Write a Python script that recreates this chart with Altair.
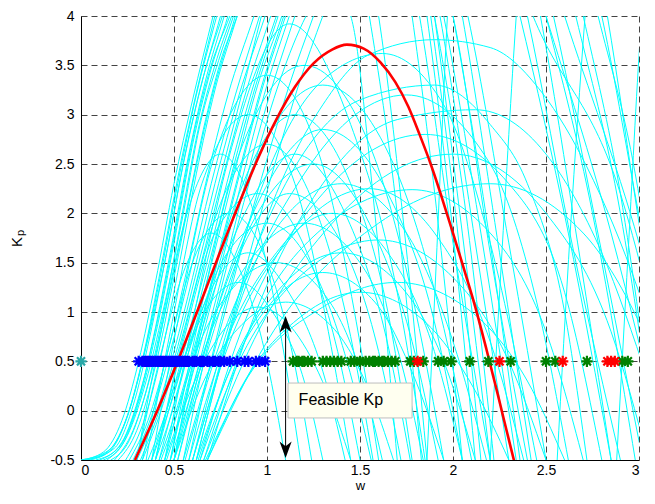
import altair as alt
import pandas as pd

# ---------------- data ----------------
# tall cyan curves (peak above the top of the plot)
TALL = [
    [(0.00,-0.5),(0.12,-0.42),(0.22,-0.1),(0.31,0.5),(0.40,1.3),(0.50,2.3),(0.60,3.15),(0.71,4.0),(1.25,8.0),(1.78,4.0),(1.92,1.9),(2.05,-0.5)],
    [(0.02,-0.5),(0.14,-0.42),(0.24,-0.1),(0.33,0.5),(0.42,1.3),(0.52,2.3),(0.62,3.2),(0.73,4.0),(1.60,9.0),(2.43,4.0),(2.90,2.2),(3.25,-0.5)],
    [(0.05,-0.5),(0.16,-0.40),(0.26,0.0),(0.35,0.65),(0.45,1.5),(0.55,2.5),(0.64,3.25),(0.75,4.0),(1.30,8.0),(1.90,4.0),(2.05,1.8),(2.20,-0.5)],
    [(0.08,-0.5),(0.20,-0.38),(0.30,0.05),(0.39,0.75),(0.48,1.6),(0.58,2.6),(0.67,3.35),(0.77,4.0),(1.65,9.0),(2.50,4.0),(2.85,1.8),(3.15,-0.5)],
    [(0.12,-0.5),(0.22,-0.35),(0.32,0.15),(0.41,0.85),(0.50,1.7),(0.60,2.7),(0.69,3.4),(0.79,4.0),(1.30,8.0),(1.86,4.0),(2.00,1.8),(2.12,-0.5)],
    [(0.16,-0.5),(0.26,-0.30),(0.35,0.2),(0.44,0.95),(0.53,1.85),(0.63,2.85),(0.72,3.5),(0.81,4.0),(1.70,9.0),(2.54,4.0),(2.80,1.6),(3.02,-0.5)],
    [(0.20,-0.5),(0.30,-0.2),(0.40,0.45),(0.50,1.35),(0.60,2.3),(0.70,3.15),(0.83,4.0),(1.45,8.0),(2.05,4.0),(2.25,1.6),(2.42,-0.5)],
    [(0.24,-0.5),(0.33,-0.15),(0.43,0.55),(0.52,1.4),(0.62,2.4),(0.72,3.25),(0.84,4.0),(1.60,9.0),(2.40,4.0),(2.65,1.6),(2.90,-0.5)],
    [(0.28,-0.5),(0.38,-0.05),(0.48,0.6),(0.58,1.35),(0.70,2.3),(0.83,3.2),(0.96,4.0),(1.40,7.0),(1.82,4.0),(2.00,1.7),(2.20,-0.5)],
    [(0.30,-0.5),(0.40,-0.05),(0.50,0.6),(0.60,1.35),(0.72,2.3),(0.85,3.2),(0.99,4.0),(1.80,9.0),(2.60,4.0),(3.00,1.7),(3.30,-0.5)],
    [(0.33,-0.5),(0.43,0.0),(0.53,0.65),(0.64,1.45),(0.76,2.35),(0.89,3.25),(1.02,4.0),(1.50,7.0),(1.93,4.0),(2.12,1.7),(2.30,-0.5)],
    [(0.36,-0.5),(0.46,0.0),(0.56,0.65),(0.67,1.45),(0.79,2.35),(0.92,3.25),(1.05,4.0),(1.75,8.0),(2.47,4.0),(2.67,1.7),(2.85,-0.5)],
    [(0.40,-0.5),(0.50,0.05),(0.60,0.75),(0.71,1.55),(0.83,2.45),(0.95,3.3),(1.08,4.0),(1.34,5.6),(1.60,4.0),(1.74,1.8),(1.86,-0.5)],
    [(0.43,-0.5),(0.53,0.05),(0.63,0.75),(0.74,1.55),(0.86,2.45),(0.98,3.3),(1.10,4.0),(1.95,9.0),(2.83,4.0),(3.00,1.9),(3.20,-0.5)],
    [(0.46,-0.5),(0.56,0.1),(0.66,0.8),(0.77,1.6),(0.88,2.45),(1.00,3.3),(1.12,4.0),(1.60,6.5),(2.08,4.0),(2.30,1.7),(2.50,-0.5)],
    [(0.50,-0.5),(0.60,0.15),(0.70,0.85),(0.81,1.65),(0.94,2.55),(1.07,3.35),(1.21,4.0),(1.33,4.35),(1.45,4.0),(1.58,2.0),(1.70,-0.5)],
    [(0.55,-0.5),(0.65,0.15),(0.76,0.9),(0.88,1.75),(1.00,2.55),(1.12,3.3),(1.25,4.0),(2.00,8.0),(2.80,4.0),(3.05,1.5),(3.30,-0.5)],
    [(0.60,-0.5),(0.70,0.15),(0.81,0.9),(0.93,1.75),(1.05,2.55),(1.17,3.3),(1.30,4.0),(1.65,5.5),(2.00,4.0),(2.20,1.6),(2.40,-0.5)],
    [(0.00,-0.5),(0.15,-0.40),(0.25,-0.05),(0.34,0.6),(0.43,1.45),(0.53,2.45),(0.63,3.3),(0.72,4.0),(1.30,8.5),(1.88,4.0),(2.02,1.9),(2.15,-0.5)],
    [(0.03,-0.5),(0.18,-0.38),(0.28,0.05),(0.37,0.75),(0.46,1.6),(0.56,2.6),(0.66,3.4),(0.76,4.0),(1.55,9.0),(2.36,4.0),(2.62,1.8),(2.85,-0.5)],
    [(0.10,-0.5),(0.22,-0.32),(0.32,0.2),(0.41,0.9),(0.50,1.75),(0.60,2.75),(0.70,3.5),(0.80,4.0),(1.40,8.0),(2.00,4.0),(2.20,1.7),(2.36,-0.5)],
    [(0.14,-0.5),(0.25,-0.25),(0.35,0.3),(0.44,1.0),(0.54,1.9),(0.64,2.9),(0.74,3.55),(0.82,4.0),(1.75,9.5),(2.70,4.0),(2.90,2.2),(3.10,-0.5)],
    [(0.18,-0.5),(0.28,-0.2),(0.38,0.4),(0.47,1.15),(0.57,2.05),(0.67,2.95),(0.76,3.6),(0.84,4.0),(1.20,6.5),(1.55,4.0),(1.70,2.0),(1.83,-0.5)],
    [(0.26,-0.5),(0.36,-0.1),(0.46,0.55),(0.56,1.35),(0.67,2.3),(0.79,3.2),(0.93,4.0),(1.70,9.0),(2.50,4.0),(2.75,2.0),(2.98,-0.5)],
    [(0.32,-0.5),(0.42,0.0),(0.52,0.65),(0.62,1.4),(0.74,2.3),(0.87,3.25),(0.97,4.0),(1.45,7.0),(1.95,4.0),(2.15,1.8),(2.34,-0.5)],
    [(0.38,-0.5),(0.48,0.05),(0.58,0.7),(0.69,1.5),(0.81,2.4),(0.94,3.3),(1.06,4.0),(1.85,9.0),(2.66,4.0),(2.90,2.0),(3.10,-0.5)],
    [(0.42,-0.5),(0.52,0.05),(0.62,0.72),(0.73,1.52),(0.85,2.42),(0.97,3.28),(1.09,4.0),(1.50,6.5),(1.90,4.0),(2.07,2.0),(2.22,-0.5)],
    [(0.48,-0.5),(0.58,0.1),(0.68,0.8),(0.79,1.6),(0.91,2.5),(1.03,3.3),(1.15,4.0),(1.95,9.0),(2.78,4.0),(2.98,2.4),(3.20,-0.5)],
]
# steep rising cyan lines on the right
RISE = [
    [(1.86,-0.5),(1.91,1.5),(1.97,4.0),(2.10,7.0)],
    [(2.20,-0.5),(2.26,1.5),(2.34,4.0),(2.45,6.5)],
    [(2.56,-0.5),(2.63,1.8),(2.71,4.0),(2.80,6.0)],
    [(2.88,-0.5),(2.93,1.2),(3.00,3.6),(3.05,5.0)],
]
# cyan arcs peaking inside the plot
MID = [
    [(0.45,-0.5),(0.60,0.9),(0.80,2.6),(1.12,3.92),(1.45,2.9),(1.70,1.2),(1.85,-0.5)],
    [(0.58,-0.5),(0.75,0.9),(1.00,2.4),(1.30,3.35),(1.62,3.62),(1.95,3.1),(2.20,1.7),(2.45,-0.5)],
    [(0.62,-0.5),(0.80,0.8),(1.05,2.2),(1.30,3.1),(1.54,3.6),(1.90,3.76),(2.20,3.68),(2.48,3.22),(2.72,2.47),(3.00,1.2),(3.20,0.0)],
    [(0.60,-0.5),(0.80,0.9),(1.10,2.3),(1.50,3.15),(1.90,3.3),(2.20,2.9),(2.40,2.3),(2.60,1.0),(2.72,-0.5)],
    [(0.68,-0.5),(0.90,0.8),(1.30,2.3),(1.70,2.95),(2.12,3.05),(2.50,2.6),(2.80,1.6),(3.05,0.3)],
    [(0.50,-0.5),(0.65,0.9),(0.85,2.2),(1.15,3.0),(1.45,2.3),(1.65,1.0),(1.78,-0.5)],
    [(0.55,-0.5),(0.70,0.8),(0.95,2.1),(1.30,2.85),(1.65,2.2),(1.90,0.9),(2.05,-0.5)],
    [(0.52,-0.5),(0.68,0.7),(0.92,1.9),(1.25,2.5),(1.55,1.9),(1.78,0.7),(1.92,-0.5)],
    [(0.56,-0.5),(0.75,0.7),(1.05,1.85),(1.40,2.3),(1.75,1.8),(2.00,0.7),(2.18,-0.5)],
    [(0.60,-0.5),(0.80,0.7),(1.15,1.8),(1.55,2.25),(1.92,1.75),(2.20,0.7),(2.38,-0.5)],
    [(0.66,-0.5),(0.88,0.7),(1.30,1.85),(1.78,2.24),(2.20,1.8),(2.50,0.8),(2.70,-0.5)],
    [(0.64,-0.5),(0.85,0.5),(1.20,1.4),(1.60,1.73),(2.00,1.35),(2.30,0.5),(2.50,-0.5)],
    [(0.40,-0.5),(0.55,0.7),(0.72,1.8),(0.95,2.2),(1.18,1.75),(1.38,0.6),(1.50,-0.5)],
    [(0.42,-0.5),(0.58,0.6),(0.77,1.55),(1.00,1.9),(1.23,1.5),(1.43,0.5),(1.56,-0.5)],
    [(0.40,-0.5),(0.55,0.5),(0.72,1.3),(0.90,1.6),(1.10,1.25),(1.30,0.4),(1.42,-0.5)],
    [(0.38,-0.5),(0.52,0.35),(0.68,1.05),(0.85,1.3),(1.03,1.0),(1.20,0.3),(1.30,-0.5)],
    [(0.50,-0.5),(0.66,0.3),(0.88,0.9),(1.10,1.1),(1.35,0.85),(1.55,0.2),(1.68,-0.5)],
    [(0.45,-0.5),(0.60,0.5),(0.82,1.25),(1.05,1.5),(1.30,1.2),(1.50,0.4),(1.62,-0.5)],
    [(0.50,-0.5),(0.66,0.6),(0.90,1.5),(1.20,1.9),(1.50,1.5),(1.72,0.5),(1.84,-0.5)],
    [(0.62,-0.5),(0.80,0.4),(1.05,1.15),(1.30,1.4),(1.58,1.1),(1.80,0.3),(1.95,-0.5)],
    [(0.68,-0.5),(0.88,0.3),(1.18,0.95),(1.50,1.2),(1.85,0.9),(2.12,0.2),(2.30,-0.5)],
    [(0.30,-0.5),(0.42,0.7),(0.57,2.0),(0.75,2.6),(0.93,2.0),(1.08,0.7),(1.18,-0.5)],
    [(0.35,-0.5),(0.48,0.8),(0.65,2.3),(0.90,3.0),(1.15,2.3),(1.33,0.8),(1.45,-0.5)],
    [(0.38,-0.5),(0.52,0.9),(0.72,2.6),(1.00,3.4),(1.28,2.6),(1.48,0.9),(1.60,-0.5)],
    [(0.50,-0.5),(0.66,0.9),(0.92,2.45),(1.30,3.3),(1.68,2.5),(1.93,1.0),(2.10,-0.5)],
    [(0.62,-0.5),(0.82,0.9),(1.20,2.4),(1.75,3.2),(2.20,2.5),(2.45,1.1),(2.62,-0.5)],
    [(0.52,-0.5),(0.68,0.6),(0.88,1.7),(1.12,2.2),(1.40,1.7),(1.60,0.6),(1.72,-0.5)],
    [(0.66,-0.5),(0.90,0.6),(1.40,2.0),(2.00,2.6),(2.50,2.0),(2.85,0.8),(3.05,-0.5)],
    [(0.30,-0.5),(0.42,0.5),(0.56,1.45),(0.70,1.8),(0.86,1.4),(1.00,0.5),(1.10,-0.5)],
    [(0.33,-0.5),(0.46,0.55),(0.62,1.6),(0.80,2.0),(0.98,1.6),(1.14,0.55),(1.24,-0.5)],
    [(0.40,-0.5),(0.55,0.75),(0.75,2.1),(1.00,2.7),(1.25,2.1),(1.45,0.75),(1.57,-0.5)],
    [(0.48,-0.5),(0.64,0.75),(0.88,2.0),(1.15,2.6),(1.42,2.0),(1.64,0.75),(1.77,-0.5)],
    [(0.48,-0.5),(0.63,0.9),(0.85,2.6),(1.20,3.5),(1.55,2.7),(1.80,1.0),(1.95,-0.5)],
    [(0.63,-0.5),(0.82,0.5),(1.10,1.3),(1.40,1.6),(1.70,1.3),(1.95,0.5),(2.12,-0.5)],
    [(0.67,-0.5),(0.90,0.35),(1.30,1.05),(1.70,1.3),(2.10,1.0),(2.40,0.3),(2.60,-0.5)],
    [(0.58,-0.5),(0.76,0.6),(1.05,1.6),(1.35,2.0),(1.65,1.6),(1.90,0.6),(2.05,-0.5)],
    [(0.45,-0.5),(0.60,0.25),(0.78,0.85),(0.95,1.05),(1.15,0.8),(1.32,0.2),(1.45,-0.5)],
    [(0.68,-0.5),(1.00,0.7),(1.60,1.9),(2.20,2.3),(2.70,1.8),(3.00,0.9),(3.20,0.0)],
    [(0.64,-0.5),(0.86,0.8),(1.30,2.2),(1.85,2.8),(2.30,2.3),(2.60,1.2),(2.80,-0.5)],
]
# the highlighted (red) curve
RED_CURVE = [(0.29,-0.5),(0.41,0.0),(0.52,0.5),(0.63,1.03),(0.74,1.57),(0.85,2.1),(0.95,2.55),
             (1.05,2.95),(1.15,3.28),(1.25,3.52),(1.35,3.66),(1.43,3.71),(1.52,3.67),(1.61,3.53),
             (1.69,3.33),(1.76,3.08),(1.82,2.8),(1.88,2.5),(1.94,2.16),(2.00,1.8),(2.06,1.43),
             (2.12,1.05),(2.18,0.62),(2.24,0.17),(2.31,-0.37),(2.33,-0.52)]

# star markers at Kp = 0.5
MARK_KP = 0.5
CYAN_W = [0.0]
BLUE_W = [0.31,0.33,0.34,0.35,0.36,0.37,0.38,0.39,0.40,0.41,0.42,0.43,0.44,0.45,0.46,0.47,
          0.48,0.49,0.50,0.51,0.52,0.53,0.54,0.55,0.56,0.57,0.58,0.60,0.61,0.62,0.64,0.65,
          0.66,0.68,0.69,0.71,0.72,0.74,0.75,0.77,0.80,0.84,0.88,0.90,0.94,0.96,0.99]
GREEN_W = [1.14,1.16,1.17,1.19,1.20,1.22,1.24,1.30,1.32,1.34,1.36,1.38,1.40,1.45,1.47,1.50,
           1.53,1.55,1.57,1.58,1.60,1.62,1.63,1.65,1.67,1.69,1.77,1.79,1.84,1.92,1.95,1.99,
           2.09,2.19,2.31,2.50,2.55,2.72,2.91,2.94]
RED_W = [1.81,2.25,2.59,2.83,2.85,2.87]

# annotation
ARROW_W = 1.10
ARROW_TOP = 0.96
ARROW_BOTTOM = -0.48
BOX = dict(x=1.113, x2=1.78, y=-0.074, y2=0.28)
BOX_TEXT = "Feasible Kp"
TEXT_POS = (1.17, 0.105)

X_TICKS = [0, 0.5, 1, 1.5, 2, 2.5, 3]
Y_TICKS = [-0.5, 0, 0.5, 1, 1.5, 2, 2.5, 3, 3.5, 4]

# ---------------- build tables ----------------
rows = []
for ci, curve in enumerate(TALL + RISE + MID):
    for j, (w, k) in enumerate(curve):
        rows.append({"c": ci, "w": w, "k": k, "o": j})
cyan_df = pd.DataFrame(rows)
red_df = pd.DataFrame([{"w": w, "k": k, "o": j} for j, (w, k) in enumerate(RED_CURVE)])

stars = ([{"w": w, "k": MARK_KP, "g": "c"} for w in CYAN_W]
         + [{"w": w, "k": MARK_KP, "g": "b"} for w in BLUE_W]
         + [{"w": w, "k": MARK_KP, "g": "g"} for w in GREEN_W]
         + [{"w": w, "k": MARK_KP, "g": "r"} for w in RED_W])
star_df = pd.DataFrame(stars)

FONT = "Liberation Sans"
xs = alt.Scale(domain=[0, 3], nice=False, zero=False)
ys = alt.Scale(domain=[-0.5, 4], nice=False, zero=False)
xaxis = alt.Axis(values=X_TICKS, title="w", grid=True, tickSize=0, labelPadding=3,
                 labelExpr="'' + datum.value", titleX=279, titleY=29, titleFontSize=13,
                 titleBaseline="alphabetic", titleAnchor=None)
yaxis = alt.Axis(values=Y_TICKS, title=None, grid=True, tickSize=0, labelPadding=7,
                 labelExpr="'' + datum.value")
X = alt.X("w:Q", scale=xs, axis=xaxis)
Y = alt.Y("k:Q", scale=ys, axis=yaxis)

cyan = alt.Chart(cyan_df).mark_line(color="#00FFFF", strokeWidth=1, interpolate="monotone",
                                    clip=True).encode(x=X, y=Y, detail="c:N", order="o:Q")
red = alt.Chart(red_df).mark_line(color="#FF0000", strokeWidth=2.6, interpolate="monotone",
                                  clip=True).encode(x=X, y=Y, order="o:Q")

STAR = "M0,-1L0,1M-1,0L1,0M-0.72,-0.72L0.72,0.72M-0.72,0.72L0.72,-0.72"
star_layer = alt.Chart(star_df).mark_point(shape=STAR, filled=False, size=125, strokeWidth=2.2,
                                           opacity=1).encode(
    x=X, y=Y,
    color=alt.Color("g:N", scale=alt.Scale(domain=["c", "b", "g", "r"],
                                           range=["#2AA8A8", "#0000FF", "#008000", "#FF0000"]),
                    legend=None))

arrow_df = pd.DataFrame([{"w": ARROW_W, "k": ARROW_BOTTOM + 0.05, "k2": ARROW_TOP - 0.05}])
shaft = alt.Chart(arrow_df).mark_rule(color="black", strokeWidth=1).encode(
    x=X, y=Y, y2=alt.Y2("k2:Q"))
head_up = alt.Chart(pd.DataFrame([{"w": ARROW_W, "k": ARROW_TOP}])).mark_point(
    shape="M0,0L0.7,1.9L0,1.35L-0.7,1.9Z", filled=True, color="black", size=300, opacity=1
).encode(x=X, y=Y)
head_dn = alt.Chart(pd.DataFrame([{"w": ARROW_W, "k": ARROW_BOTTOM}])).mark_point(
    shape="M0,0L0.7,-1.9L0,-1.35L-0.7,-1.9Z", filled=True, color="black", size=300, opacity=1
).encode(x=X, y=Y)

box_df = pd.DataFrame([{"w": BOX["x"], "w2": BOX["x2"], "k": BOX["y"], "k2": BOX["y2"]}])
box = alt.Chart(box_df).mark_rect(fill="#FFFFF0", stroke="#BDBDBD", strokeWidth=1).encode(
    x=X, x2=alt.X2("w2:Q"), y=Y, y2=alt.Y2("k2:Q"))
txt = alt.Chart(pd.DataFrame([{"w": TEXT_POS[0], "k": TEXT_POS[1], "t": BOX_TEXT}])).mark_text(
    align="left", baseline="middle", font=FONT, fontSize=16, color="black").encode(
    x=X, y=Y, text="t:N")

ylab_k = alt.Chart(pd.DataFrame([{"t": "K"}])).mark_text(
    angle=270, align="center", baseline="middle", font=FONT, fontSize=15, color="black"
).encode(x=alt.value(-64), y=alt.value(226), text="t:N")
ylab_p = alt.Chart(pd.DataFrame([{"t": "p"}])).mark_text(
    angle=270, align="center", baseline="middle", font=FONT, fontSize=11, color="black"
).encode(x=alt.value(-60), y=alt.value(217), text="t:N")

chart = alt.layer(cyan, red, star_layer, shaft, head_up, head_dn, box, txt, ylab_k, ylab_p).properties(
    width=558, height=444,
    padding={"left": 73, "top": 8, "right": 8, "bottom": 32},
    autosize=alt.AutoSizeParams(type="none"),
).configure_view(stroke=None).configure_axis(
    labelFont=FONT, labelFontSize=14, labelColor="black",
    titleFont=FONT, titleFontSize=15, titleFontWeight="normal", titleColor="black",
    domainColor="black", domainWidth=1,
    gridColor="#222222", gridDash=[6, 4], gridWidth=1, gridOpacity=0.85,
)

chart.save("out.html", embed_options={"renderer": "svg", "actions": False})
